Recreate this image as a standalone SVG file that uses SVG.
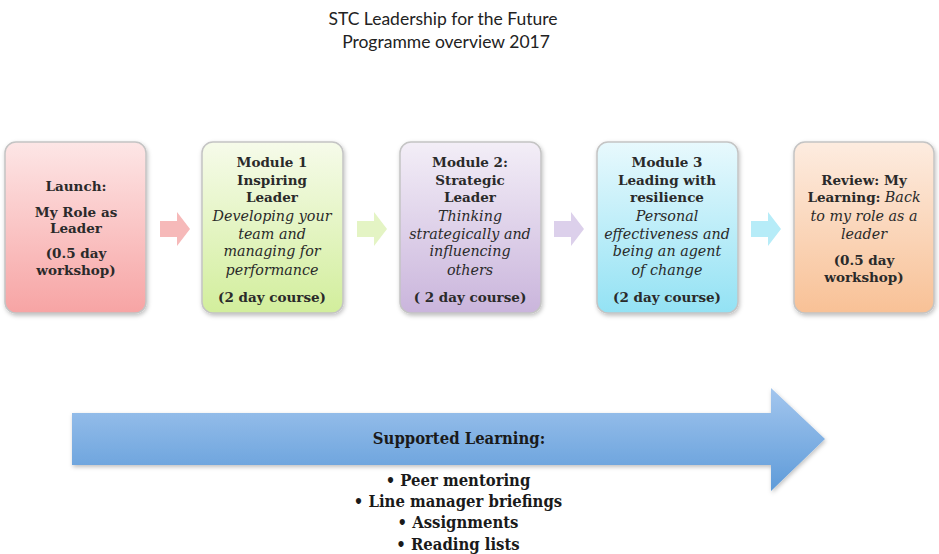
<svg xmlns="http://www.w3.org/2000/svg" width="939" height="554" viewBox="0 0 939 554">
<defs>
<linearGradient id="g1" x1="0" y1="0" x2="0" y2="1"><stop offset="0" stop-color="#fde6e6"/><stop offset="1" stop-color="#f7a4a4"/></linearGradient>
<linearGradient id="g2" x1="0" y1="0" x2="0" y2="1"><stop offset="0" stop-color="#f6fbea"/><stop offset="1" stop-color="#d2ee9c"/></linearGradient>
<linearGradient id="g3" x1="0" y1="0" x2="0" y2="1"><stop offset="0" stop-color="#f3eef7"/><stop offset="1" stop-color="#cab5dc"/></linearGradient>
<linearGradient id="g4" x1="0" y1="0" x2="0" y2="1"><stop offset="0" stop-color="#e8f9fd"/><stop offset="1" stop-color="#93e2f4"/></linearGradient>
<linearGradient id="g5" x1="0" y1="0" x2="0" y2="1"><stop offset="0" stop-color="#fdece0"/><stop offset="1" stop-color="#f8c196"/></linearGradient>
<linearGradient id="gb" x1="0" y1="0" x2="0" y2="1"><stop offset="0" stop-color="#a3c6ee"/><stop offset="1" stop-color="#5e9bd9"/></linearGradient>
<filter id="sh" x="-10%" y="-10%" width="130%" height="130%"><feDropShadow dx="1" dy="2" stdDeviation="2" flood-color="#000" flood-opacity="0.25"/></filter>
</defs>
<style>
.box{stroke:#c4c4c4;stroke-width:1.5;filter:url(#sh)}
.t{font-family:"DejaVu Serif","Liberation Serif",serif;font-size:13.5px;fill:#2a2a2a;text-anchor:middle}
.b{font-weight:bold}
.i{font-style:italic;font-size:14.3px}
.title{font-family:Lato,"Open Sans",sans-serif;font-size:17.5px;fill:#222;text-anchor:middle}
.s{font-family:"DejaVu Serif Condensed","DejaVu Serif",serif;font-stretch:condensed;font-weight:bold;font-size:16.5px;fill:#1a1a1a;text-anchor:middle}
</style>
<rect width="939" height="554" fill="#fff"/>
<g id="title">
<text class="title" x="443" y="25">STC Leadership for the Future</text>
<text class="title" x="446" y="48">Programme overview 2017</text>
</g>
<g id="connectors">
<path d="M160,221 H177 V212 L190,229 L177,246 V237 H160 Z" fill="#f6b9b9"/>
<path d="M357,221 H374 V212 L387,229 L374,246 V237 H357 Z" fill="#e4f4c4"/>
<path d="M554,221 H571 V212 L584,229 L571,246 V237 H554 Z" fill="#dcd0eb"/>
<path d="M751,221 H768 V212 L781,229 L768,246 V237 H751 Z" fill="#b6ecf8"/>
</g>
<g id="launch">
<rect class="box" x="5" y="142" width="141" height="171" rx="11" fill="url(#g1)"/>
<text class="t b" x="76" y="191">Launch:</text>
<text class="t b" x="76" y="217">My Role as</text>
<text class="t b" x="76" y="233">Leader</text>
<text class="t b" x="76" y="258">(0.5 day</text>
<text class="t b" x="76" y="275">workshop)</text>
</g>
<g id="module1">
<rect class="box" x="202" y="142" width="141" height="171" rx="11" fill="url(#g2)"/>
<text class="t b" x="272" y="167">Module 1</text>
<text class="t b" x="272" y="185">Inspiring</text>
<text class="t b" x="272" y="202">Leader</text>
<text class="t i" x="272" y="221">Developing your</text>
<text class="t i" x="272" y="239">team and</text>
<text class="t i" x="272" y="256">managing for</text>
<text class="t i" x="272" y="275">performance</text>
<text class="t b" x="272" y="302">(2 day course)</text>
</g>
<g id="module2">
<rect class="box" x="400" y="142" width="141" height="171" rx="11" fill="url(#g3)"/>
<text class="t b" x="470" y="167">Module 2:</text>
<text class="t b" x="470" y="185">Strategic</text>
<text class="t b" x="470" y="202">Leader</text>
<text class="t i" x="470" y="221">Thinking</text>
<text class="t i" x="470" y="239">strategically and</text>
<text class="t i" x="470" y="256">influencing</text>
<text class="t i" x="470" y="275">others</text>
<text class="t b" x="470" y="302">( 2 day course)</text>
</g>
<g id="module3">
<rect class="box" x="597" y="142" width="141" height="171" rx="11" fill="url(#g4)"/>
<text class="t b" x="667" y="167">Module 3</text>
<text class="t b" x="667" y="185">Leading with</text>
<text class="t b" x="667" y="202">resilience</text>
<text class="t i" x="667" y="221">Personal</text>
<text class="t i" x="667" y="239">effectiveness and</text>
<text class="t i" x="667" y="256">being an agent</text>
<text class="t i" x="667" y="275">of change</text>
<text class="t b" x="667" y="302">(2 day course)</text>
</g>
<g id="review">
<rect class="box" x="794" y="142" width="140" height="171" rx="11" fill="url(#g5)"/>
<text class="t b" x="864" y="185">Review: My</text>
<text class="t" x="864" y="202"><tspan class="b">Learning:</tspan> <tspan class="i">Back</tspan></text>
<text class="t i" x="864" y="221">to my role as a</text>
<text class="t i" x="864" y="239">leader</text>
<text class="t b" x="864" y="265">(0.5 day</text>
<text class="t b" x="864" y="282">workshop)</text>
</g>
<g id="supported">
<path d="M72,413 H771 V388 L825,439 L771,491 V465 H72 Z" fill="url(#gb)" filter="url(#sh)"/>
<text class="s" x="459" y="444">Supported Learning:</text>
<text class="s" x="458" y="486">• Peer mentoring</text>
<text class="s" x="458" y="507">• Line manager briefings</text>
<text class="s" x="458" y="528">• Assignments</text>
<text class="s" x="458" y="550">• Reading lists</text>
</g>
</svg>
